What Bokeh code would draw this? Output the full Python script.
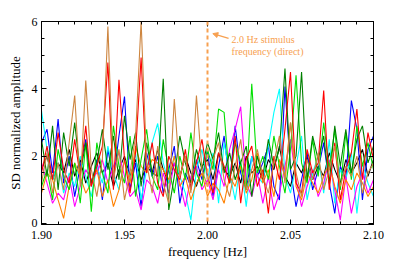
import numpy as np
from bokeh.plotting import figure
from bokeh.models import (LinearAxis, SingleIntervalTicker, NumeralTickFormatter, Span,
                          Arrow, NormalHead, Label, Range1d)
from bokeh.embed import file_html
from bokeh.resources import INLINE

# ---------------- data ----------------
F_MIN, F_MAX = 1.90, 2.10
STIM_FREQ = 2.0

brown = [1.2, 2.1, 0.9, 1.8, 1.0, 2.4, 3.8, 1.1, 4.25, 1.6,
         0.8, 1.9, 5.85, 1.3, 2.2, 0.7, 1.5, 2.6, 6.0, 1.8,
         0.9, 2.3, 1.2, 0.6, 3.7, 1.4, 2.0, 0.9, 3.8, 1.6,
         1.1, 1.9, 2.4, 1.3, 0.8, 1.7, 2.5, 1.0, 1.6, 2.2,
         1.4, 0.9, 1.8, 2.6, 1.2, 3.0, 1.5, 0.8, 1.9, 1.3,
         2.1, 1.0, 1.6, 2.3, 1.1, 1.7, 1.4, 2.0, 0.9, 1.5,
         1.8]
red = [1.5, 2.3, 1.3, 2.7, 1.6, 1.2, 2.5, 1.4, 2.9, 1.1,
       1.7, 2.3, 4.78, 1.0, 4.27, 1.9, 0.9, 2.1, 4.93, 1.5,
       2.4, 1.2, 0.8, 2.0, 1.6, 1.3, 2.2, 1.0, 1.8, 2.5,
       1.4, 0.9, 2.1, 1.7, 1.2, 2.6, 0.6, 1.9, 2.3, 1.1,
       1.6, 0.3, 2.0, 1.3, 2.8, 4.5, 1.2, 0.9, 2.2, 1.5,
       1.8, 3.95, 1.0, 2.4, 0.7, 1.6, 2.1, 3.4, 1.3, 2.7,
       1.9]
dgreen = [2.5, 1.4, 2.9, 1.0, 2.7, 1.7, 3.0, 1.5, 2.4, 1.2,
          1.8, 2.8, 1.6, 2.6, 1.3, 3.2, 1.9, 2.7, 1.1, 2.4,
          1.5, 1.4, 4.3, 0.4, 1.4, 2.6, 1.8, 1.2, 2.2, 1.6,
          2.4, 1.9, 2.7, 1.5, 2.1, 1.3, 1.8, 2.3, 0.8, 2.0,
          1.4, 2.5, 1.7, 2.2, 4.6, 1.6, 2.0, 4.5, 1.3, 2.6,
          1.9, 2.6, 1.2, 2.9, 1.7, 2.8, 1.5, 2.5, 2.9, 1.8,
          2.3]
lime = [1.1, 1.6, 0.7, 2.2, 1.4, 1.0, 1.8, 0.6, 2.4, 0.35,
        2.4, 1.5, 0.9, 2.9, 1.7, 1.2, 2.6, 0.8, 1.9, 2.8,
        1.4, 1.0, 2.5, 1.6, 0.9, 2.0, 1.3, 2.7, 1.5, 1.1,
        2.2, 1.6, 3.4, 3.3, 1.2, 2.4, 1.8, 1.0, 4.15, 1.5,
        2.0, 1.3, 2.6, 1.7, 0.9, 2.2, 4.4, 1.8, 1.2, 2.5,
        1.4, 3.0, 1.6, 2.8, 1.0, 2.7, 1.3, 2.9, 1.7, 2.4,
        1.6]
blue = [2.4, 2.8, 1.5, 3.1, 1.2, 2.0, 0.8, 1.7, 2.5, 1.1,
        1.9, 0.7, 2.2, 1.3, 2.6, 3.77, 1.0, 1.8, 0.5, 2.1,
        1.4, 2.0, 0.9, 1.6, 2.3, 0.6, 1.5, 1.1, 1.9, 1.3,
        2.2, 0.8, 1.7, 2.6, 1.2, 2.9, 1.5, 1.0, 2.0, 1.4,
        1.8, 2.3, 1.1, 0.7, 4.07, 1.6, 0.5, 1.3, 2.1, 1.0,
        1.6, 2.4, 1.2, 0.3, 1.7, 1.3, 3.65, 2.8, 0.7, 2.2,
        2.6]
cyan = [3.35, 2.2, 1.3, 1.8, 0.9, 1.5, 1.1, 2.0, 1.4, 0.8,
        1.7, 1.2, 2.3, 1.5, 1.0, 1.9, 1.3, 2.1, 0.7, 1.6,
        2.4, 2.97, 1.8, 1.2, 2.0, 1.4, 0.9, 0.1, 1.6, 2.2,
        1.3, 2.1, 0.6, 2.4, 1.5, 0.7, 1.8, 0.5, 2.0, 1.4,
        1.2, 2.3, 3.3, 4.0, 1.4, 0.9, 1.7, 2.6, 0.7, 1.5,
        2.0, 0.9, 2.5, 0.6, 1.6, 1.3, 2.1, 0.3, 1.8, 1.2,
        0.8]
magenta = [1.8, 1.2, 0.6, 0.9, 0.7, 1.4, 0.5, 1.1, 1.6, 1.3,
           1.5, 1.9, 1.2, 1.7, 2.1, 1.4, 0.8, 1.0, 0.4, 1.3,
           1.1, 0.6, 1.5, 0.9, 1.8, 1.2, 0.5, 1.4, 1.7, 1.0,
           1.3, 0.7, 1.6, 1.1, 2.2, 2.8, 3.47, 1.2, 0.8, 1.5,
           0.6, 1.4, 0.4, 0.9, 1.7, 2.5, 1.3, 0.5, 1.1, 1.6,
           0.8, 1.2, 1.9, 1.0, 0.1, 1.4, 0.3, 1.1, 1.5, 0.9,
           1.3]
orange = [0.9, 1.5, 1.3, 0.7, 0.15, 1.1, 1.8, 1.4, 0.9, 1.2,
          1.6, 0.8, 1.3, 0.5, 1.0, 1.9, 1.2, 2.3, 1.7, 1.5,
          1.9, 1.8, 1.6, 1.3, 2.0, 1.1, 1.4, 0.7, 1.2, 1.5,
          0.8, 1.2, 1.0, 0.6, 1.4, 1.1, 1.7, 0.9, 1.3, 2.1,
          1.2, 1.6, 0.8, 1.9, 1.4, 3.0, 1.1, 0.7, 1.5, 1.2,
          0.9, 1.4, 1.8, 1.1, 0.6, 1.3, 1.0, 1.5, 1.2, 0.8,
          1.1]
black = [1.6, 2.0, 1.3, 1.8, 1.5, 2.2, 1.4, 1.9, 1.2, 1.7,
         2.1, 1.5, 1.8, 1.1, 1.6, 2.0, 1.4, 1.9, 1.3, 1.7,
         1.5, 2.2, 1.6, 1.2, 1.8, 1.4, 2.0, 1.5, 1.1, 1.7,
         1.9, 1.3, 2.1, 1.6, 1.4, 1.8, 1.2, 2.0, 1.5, 1.7,
         1.3, 1.9, 1.6, 2.3, 1.4, 1.1, 1.8, 1.5, 2.0, 1.3,
         1.7, 1.4, 2.1, 1.6, 1.2, 1.9, 1.5, 1.8, 2.2, 1.4,
         1.9]

series = [
    (black, "#000000"),
    (blue, "#0000FF"),
    (cyan, "#00FFFF"),
    (magenta, "#FF00FF"),
    (orange, "#FF8000"),
    (lime, "#00E000"),
    (dgreen, "#008000"),
    (red, "#FF0000"),
    (brown, "#CD853F"),
]

ANN_TEXT_1 = "2.0 Hz stimulus"
ANN_TEXT_2 = "frequency (direct)"
ANN_COLOR = "#F7A050"

FONT = "Liberation Serif"

# ---------------- figure ----------------
p = figure(width=399, height=266, output_backend="svg", toolbar_location=None,
           x_range=Range1d(F_MIN, F_MAX), y_range=Range1d(-0.03, 6.0),
           min_border_left=41, min_border_right=26, min_border_top=21,
           min_border_bottom=42, x_axis_type=None, y_axis_type=None)
p.outline_line_color = None
p.background_fill_color = "white"
p.border_fill_color = "white"

for ys, col in series:
    xs = np.linspace(F_MIN, F_MAX, len(ys))
    p.line(xs, ys, line_color=col, line_width=1.1)

p.add_layout(Span(location=STIM_FREQ, dimension="height", line_color=ANN_COLOR,
                  line_dash="4 3", line_width=2))

p.add_layout(Arrow(x_start=2.0127, y_start=5.5, x_end=2.0032, y_end=5.64,
                   line_color=ANN_COLOR, line_width=1.2,
                   end=NormalHead(size=5, fill_color=ANN_COLOR, line_color=ANN_COLOR)))
p.add_layout(Label(x=2.0145, y=5.62, text=ANN_TEXT_1, text_font=FONT,
                   text_font_size="10px", text_color=ANN_COLOR, text_baseline="top"))
p.add_layout(Label(x=2.0145, y=5.26, text=ANN_TEXT_2, text_font=FONT,
                   text_font_size="10px", text_color=ANN_COLOR, text_baseline="top"))


def style(ax, labels=True):
    ax.axis_line_color = "black"
    ax.axis_line_width = 1
    ax.major_tick_in = 5
    ax.major_tick_out = 0
    ax.minor_tick_in = 3
    ax.minor_tick_out = 0
    ax.major_tick_line_color = "black"
    ax.minor_tick_line_color = "black"
    if labels:
        ax.major_label_text_font = FONT
        ax.major_label_text_font_size = "12px"
        ax.major_label_text_color = "black"
        ax.axis_label_text_font = FONT
        ax.axis_label_text_font_size = "13px"
        ax.axis_label_text_font_style = "normal"
        ax.axis_label_text_color = "black"
    else:
        ax.major_label_text_color = None
        ax.major_label_standoff = 0


xt = SingleIntervalTicker(interval=0.05, num_minor_ticks=5)
yt = SingleIntervalTicker(interval=2, num_minor_ticks=4)

xb = LinearAxis(ticker=xt, formatter=NumeralTickFormatter(format="0.00"),
                axis_label="frequency [Hz]")
style(xb)
xb.major_label_standoff = 6
xb.axis_label_standoff = 2
p.add_layout(xb, "below")

yl = LinearAxis(ticker=yt, axis_label="SD normalized amplitude")
style(yl)
yl.major_label_standoff = 4
yl.axis_label_standoff = 6
p.add_layout(yl, "left")

xa = LinearAxis(ticker=xt)
style(xa, labels=False)
p.add_layout(xa, "above")

yr = LinearAxis(ticker=yt)
style(yr, labels=False)
p.add_layout(yr, "right")

open("out.html", "w").write(file_html(p, INLINE))
